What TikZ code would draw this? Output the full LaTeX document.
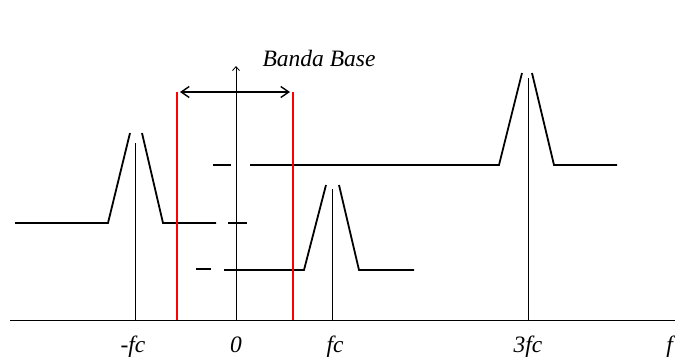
\documentclass[tikz,border=0pt]{standalone}
\usepackage{fontspec}
\setmainfont{Liberation Serif}
\usetikzlibrary{arrows.meta}

\begin{document}
\begin{tikzpicture}[
  x=1pt, y=-1pt,
  >={Straight Barb[length=8pt,width=11pt]},
  eixo/.style={line width=0.8pt},
  espectro/.style={line width=1.8pt},
  banda/.style={draw=red, line width=1.8pt},
  rot/.style={font=\fontsize{23.5}{26}\selectfont\itshape, inner sep=0pt, anchor=base}
]
\useasboundingbox (0,0) rectangle (675,360);

% eixos
\coordinate (ini) at (10,320);
\coordinate (fim) at (675,320);
\coordinate (zero) at (236,320);
\coordinate (topo) at (236,66);
\draw[eixo] (ini) -- (fim);
\draw[eixo, -{Straight Barb[length=4pt,width=7pt]}] (zero) -- (topo);

% marcas das portadoras
\draw[eixo] (135,320) -- (135,143);
\draw[eixo] (332,320) -- (332,189);
\draw[eixo] (528,320) -- (528,78);

% espectro em -fc
\draw[espectro] (15,223) -- (108,223) -- (130,133);
\draw[espectro] (142,133) -- (163,223) -- (216,223);
\draw[espectro] (228,223) -- (247,223);

% espectro em fc
\draw[espectro] (196,269) -- (211,269);
\draw[espectro] (224,270) -- (304,270) -- (326,185);
\draw[espectro] (339,185) -- (359,270) -- (414,270);

% espectro em 3fc
\draw[espectro] (213,165) -- (231,165);
\draw[espectro] (250,165) -- (499,165) -- (522,73);
\draw[espectro] (532,73) -- (554,165) -- (617,165);

% banda base
\coordinate (bbe) at (177,92);
\coordinate (bbd) at (293,92);
\draw[banda] (177,320) -- (bbe);
\draw[banda] (293,320) -- (bbd);
\draw[line width=1.4pt, <->] ([xshift=3pt]bbe) -- ([xshift=-3pt]bbd);
\node[rot] (banda) at (319,66) {Banda Base};

% rotulos
\node[rot] (lmfc) at (133,352) {-fc};
\node[rot] (l0) at (236,352) {0};
\node[rot] (lfc) at (335,352) {fc};
\node[rot] (l3fc) at (528,352) {3fc};
\node[rot, anchor=base east] (lf) at (673,352) {f};
\end{tikzpicture}
\end{document}
